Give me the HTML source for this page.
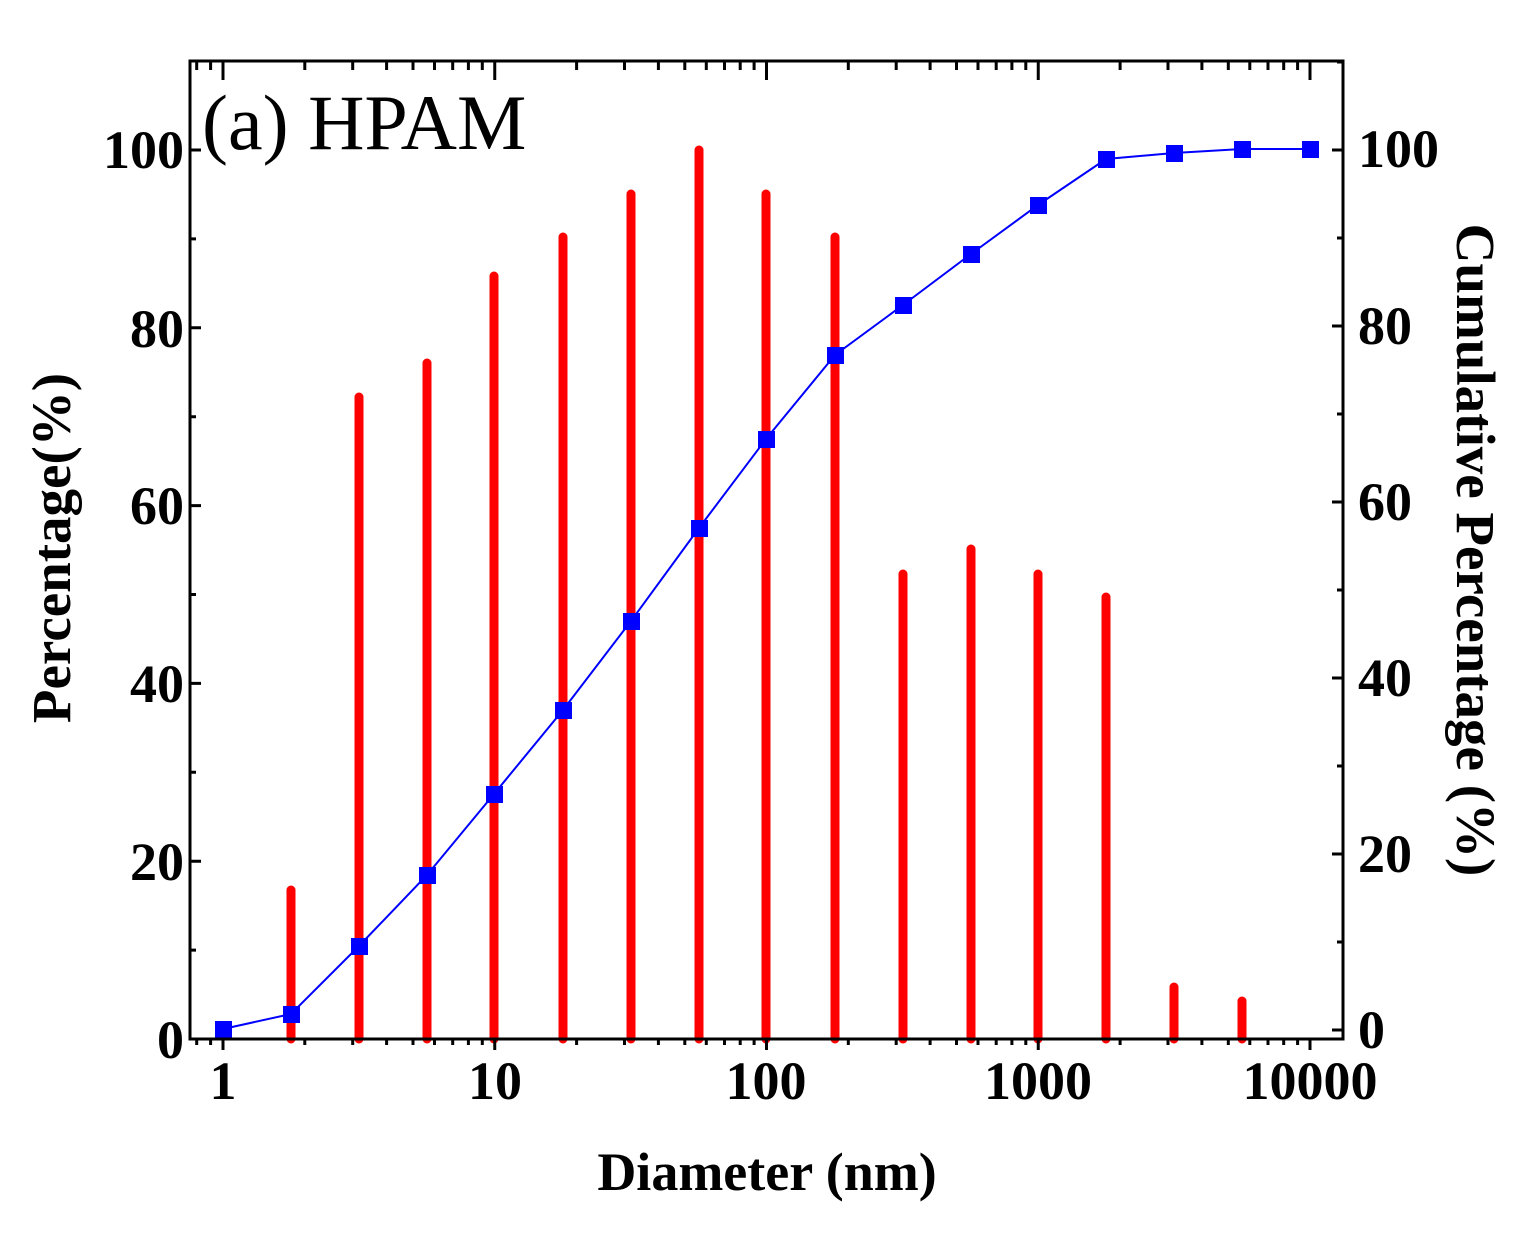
<!DOCTYPE html>
<html><head><meta charset="utf-8"><style>html,body{margin:0;padding:0;background:#fff}svg{display:block}</style></head>
<body>
<svg width="1530" height="1251" viewBox="0 0 1530 1251" xmlns="http://www.w3.org/2000/svg" font-family="'Liberation Serif',serif">
<rect width="1530" height="1251" fill="#fff"/>
<g stroke="#f00" stroke-width="9" stroke-linecap="round">
<line x1="291" y1="1039" x2="291" y2="890"/>
<line x1="359" y1="1039" x2="359" y2="397"/>
<line x1="427" y1="1039" x2="427" y2="363"/>
<line x1="494" y1="1039" x2="494" y2="276"/>
<line x1="563" y1="1039" x2="563" y2="237"/>
<line x1="631" y1="1039" x2="631" y2="194"/>
<line x1="699" y1="1039" x2="699" y2="150"/>
<line x1="766" y1="1039" x2="766" y2="194"/>
<line x1="835" y1="1039" x2="835" y2="237"/>
<line x1="903" y1="1039" x2="903" y2="574"/>
<line x1="971" y1="1039" x2="971" y2="549"/>
<line x1="1038" y1="1039" x2="1038" y2="574"/>
<line x1="1106" y1="1039" x2="1106" y2="597"/>
<line x1="1174" y1="1039" x2="1174" y2="987"/>
<line x1="1242" y1="1039" x2="1242" y2="1001"/>
</g>
<polyline fill="none" stroke="#00f" stroke-width="2" points="223,1029 291,1014 359,946 427,875 494,794 563,710 631,621 699,528 766,439 835,355 903,305 971,254 1038,205 1106,159 1174,153 1242,149 1310,149"/>
<g fill="#00f">
<rect x="215" y="1021" width="17" height="17"/><rect x="283" y="1006" width="17" height="17"/><rect x="351" y="938" width="17" height="17"/><rect x="419" y="867" width="17" height="17"/><rect x="486" y="786" width="17" height="17"/><rect x="555" y="702" width="17" height="17"/><rect x="623" y="613" width="17" height="17"/><rect x="691" y="520" width="17" height="17"/><rect x="758" y="431" width="17" height="17"/><rect x="827" y="347" width="17" height="17"/><rect x="895" y="297" width="17" height="17"/><rect x="963" y="246" width="17" height="17"/><rect x="1030" y="197" width="17" height="17"/><rect x="1098" y="151" width="17" height="17"/><rect x="1166" y="145" width="17" height="17"/><rect x="1234" y="141" width="17" height="17"/><rect x="1302" y="141" width="17" height="17"/>
</g>
<rect x="190" y="61" width="1153" height="978" fill="none" stroke="#000" stroke-width="3"/>
<g stroke="#000" stroke-width="3">
<path d="M223,1039V1050M494.75,1039V1050M766.5,1039V1050M1038.25,1039V1050M1310,1039V1050"/>
<path d="M196.7,1039v6M210.6,1039v6M304.8,1039v6M352.7,1039v6M386.6,1039v6M413,1039v6M434.5,1039v6M452.7,1039v6M468.4,1039v6M482.3,1039v6M576.6,1039v6M624.5,1039v6M658.4,1039v6M684.8,1039v6M706.3,1039v6M724.5,1039v6M740.2,1039v6M754.1,1039v6M848.3,1039v6M896.2,1039v6M930.1,1039v6M956.5,1039v6M978,1039v6M996.2,1039v6M1011.9,1039v6M1025.8,1039v6M1120.1,1039v6M1168,1039v6M1201.9,1039v6M1228.3,1039v6M1249.8,1039v6M1268,1039v6M1283.7,1039v6M1297.6,1039v6"/>
<path d="M223,61V80M494.75,61V80M766.5,61V80M1038.25,61V80M1310,61V80"/>
<path d="M196.7,61v9M210.6,61v9M304.8,61v9M352.7,61v9M386.6,61v9M413,61v9M434.5,61v9M452.7,61v9M468.4,61v9M482.3,61v9M576.6,61v9M624.5,61v9M658.4,61v9M684.8,61v9M706.3,61v9M724.5,61v9M740.2,61v9M754.1,61v9M848.3,61v9M896.2,61v9M930.1,61v9M956.5,61v9M978,61v9M996.2,61v9M1011.9,61v9M1025.8,61v9M1120.1,61v9M1168,61v9M1201.9,61v9M1228.3,61v9M1249.8,61v9M1268,61v9M1283.7,61v9M1297.6,61v9"/>
<path d="M190,861.2h11M190,683.4h11M190,505.6h11M190,327.8h11M190,150h11M190,950.1h6M190,772.3h6M190,594.5h6M190,416.7h6M190,238.9h6"/>
<path d="M1343,1030h-11M1343,854h-11M1343,678h-11M1343,502h-11M1343,326h-11M1343,150h-11M1343,942h-6M1343,766h-6M1343,590h-6M1343,414h-6M1343,238h-6M1343,62h-6"/>
</g>
<g font-weight="bold" font-size="54" fill="#000">
<g text-anchor="end">
<text x="184" y="1058">0</text><text x="184" y="880">20</text><text x="184" y="702">40</text><text x="184" y="524">60</text><text x="184" y="347">80</text><text x="184" y="168">100</text>
</g>
<g text-anchor="start">
<text x="1358" y="1048">0</text><text x="1358" y="872">20</text><text x="1358" y="696">40</text><text x="1358" y="520">60</text><text x="1358" y="344">80</text><text x="1358" y="167">100</text>
</g>
<g text-anchor="middle">
<text x="223" y="1099">1</text><text x="495" y="1099">10</text><text x="766" y="1099">100</text><text x="1038" y="1099">1000</text><text x="1310" y="1099">10000</text>
</g>
<text x="767" y="1190" text-anchor="middle" font-size="54">Diameter (nm)</text>
<text transform="translate(70,548) rotate(-90)" text-anchor="middle" font-size="55">Percentage(%)</text>
<text transform="translate(1457,550) rotate(90)" text-anchor="middle" font-size="55">Cumulative Percentage (%)</text>
</g>
<text x="202" y="149" font-size="78" fill="#000">(a) HPAM</text>
</svg>
</body></html>
